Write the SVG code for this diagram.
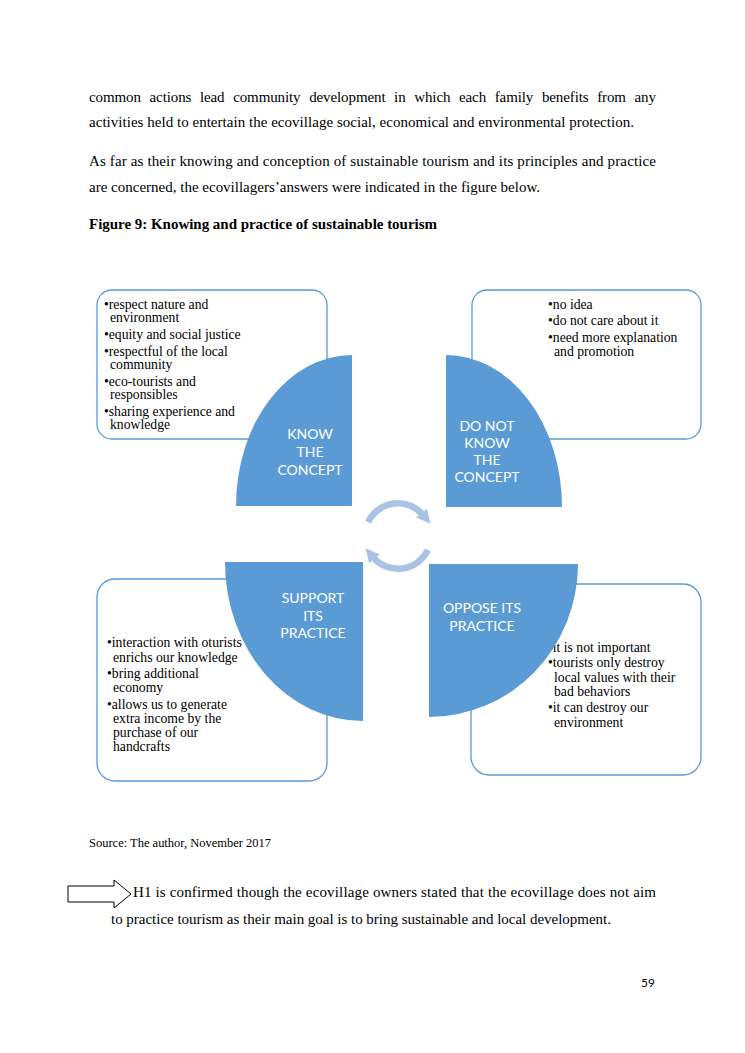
<svg xmlns="http://www.w3.org/2000/svg" width="745" height="1053" viewBox="0 0 745 1053">
<style>
.body{font-family:"Liberation Serif","Times New Roman",serif;font-size:15px;fill:#000}
.bold{font-weight:bold}
.src{font-family:"Liberation Serif","Times New Roman",serif;font-size:12.5px;fill:#000}
.item{font-family:"Liberation Serif","Times New Roman",serif;font-size:13.7px;fill:#000}
.box{fill:#fff;stroke:#5b9bd5;stroke-width:1.3}
.quarter{fill:#5b9bd5;stroke:none}
.lbl{font-family:Lato,"Open Sans","Liberation Sans",sans-serif;font-size:14px;fill:#fff;text-anchor:middle}
.cyc{fill:none;stroke:#a9c3e5;stroke-width:6.5}
.pg{font-family:Lato,"Open Sans","Liberation Sans",sans-serif;font-size:12px;fill:#000}
</style>
<defs>
<marker id="head" viewBox="0 0 10 10" refX="2" refY="5" markerWidth="14" markerHeight="14" markerUnits="userSpaceOnUse" orient="auto">
<path d="M0,0 L10,5 L0,10 Z" fill="#a9c3e5"/>
</marker>
</defs>
<rect width="745" height="1053" fill="#fff"/>

<g id="page-text">
<text class="body" x="89" y="102" word-spacing="5" textLength="567" lengthAdjust="spacing">common actions lead community development in which each family benefits from any</text>
<text class="body" x="89" y="127" textLength="545" lengthAdjust="spacing">activities held to entertain the ecovillage social, economical and environmental  protection.</text>
<text class="body" x="89" y="166" textLength="567" lengthAdjust="spacing">As far as their knowing and conception of sustainable tourism and its principles and practice</text>
<text class="body" x="89" y="192" textLength="451" lengthAdjust="spacing">are concerned, the ecovillagers’answers were indicated in the figure below.</text>
<text class="body bold" x="89" y="229" textLength="348" lengthAdjust="spacing">Figure 9: Knowing and practice of sustainable tourism</text>
<text class="src" x="89" y="847" textLength="182" lengthAdjust="spacing">Source: The author, November 2017</text>
<text class="body" x="133" y="897" textLength="523" lengthAdjust="spacing">H1 is confirmed though the ecovillage owners stated that the ecovillage does not aim</text>
<text class="body" x="111" y="924" textLength="500" lengthAdjust="spacing">to practice tourism as their main goal is to bring sustainable and local development.</text>
<text class="pg" x="648" y="987" text-anchor="middle">59</text>
</g>

<g id="h1-arrow">
<path d="M68,886 L114,886 L114,880 L131,894 L114,908 L114,902 L68,902 Z" fill="#fff" stroke="#000" stroke-width="1"/>
</g>

<g id="node-know">
<rect class="box" x="97" y="290" width="230" height="149" rx="15"/>
<text class="item">
<tspan x="104" y="309">•respect nature and</tspan>
<tspan x="110" y="322">environment</tspan>
<tspan x="104" y="339">•equity and social justice</tspan>
<tspan x="104" y="356">•respectful of the local</tspan>
<tspan x="110" y="369">community</tspan>
<tspan x="104" y="386">•eco-tourists and</tspan>
<tspan x="110" y="399">responsibles</tspan>
<tspan x="104" y="416">•sharing experience and</tspan>
<tspan x="110" y="429">knowledge</tspan>
</text>
<path class="quarter" d="M352,506 L236,506 A116,151 0 0 1 352,355 Z"/>
<text class="lbl"><tspan x="310" y="439">KNOW</tspan><tspan x="310" y="457">THE</tspan><tspan x="310" y="475">CONCEPT</tspan></text>
</g>

<g id="node-donotknow">
<rect class="box" x="472" y="290" width="229" height="149" rx="15"/>
<text class="item">
<tspan x="548" y="309">•no idea</tspan>
<tspan x="548" y="325">•do not care about it</tspan>
<tspan x="548" y="342">•need more explanation</tspan>
<tspan x="554" y="356">and promotion</tspan>
</text>
<path class="quarter" d="M446,507 L446,355 A116,152 0 0 1 562,507 Z"/>
<text class="lbl"><tspan x="487" y="431">DO NOT</tspan><tspan x="487" y="448">KNOW</tspan><tspan x="487" y="465">THE</tspan><tspan x="487" y="482">CONCEPT</tspan></text>
</g>

<g id="node-support">
<rect class="box" x="97" y="579" width="230" height="202" rx="18"/>
<text class="item">
<tspan x="107" y="647">•interaction with oturists</tspan>
<tspan x="113" y="662">enrichs our knowledge</tspan>
<tspan x="107" y="678">•bring additional</tspan>
<tspan x="113" y="692">economy</tspan>
<tspan x="107" y="709">•allows us to  generate</tspan>
<tspan x="113" y="723">extra income by the</tspan>
<tspan x="113" y="737">purchase of our</tspan>
<tspan x="113" y="751">handcrafts</tspan>
</text>
<path class="quarter" d="M363,562 L363,721 A138,159 0 0 1 225,562 Z"/>
<text class="lbl"><tspan x="313" y="603">SUPPORT</tspan><tspan x="313" y="621">ITS</tspan><tspan x="313" y="638">PRACTICE</tspan></text>
</g>

<g id="node-oppose">
<rect class="box" x="471" y="584" width="230" height="191" rx="18"/>
<text class="item">
<tspan x="548" y="652">•it is not important</tspan>
<tspan x="548" y="667">•tourists only destroy</tspan>
<tspan x="554" y="682">local values with their</tspan>
<tspan x="554" y="696">bad behaviors</tspan>
<tspan x="548" y="712">•it can destroy our</tspan>
<tspan x="554" y="727">environment</tspan>
</text>
<path class="quarter" d="M429,564 L578,564 A149,153 0 0 1 429,717 Z"/>
<text class="lbl"><tspan x="482" y="613">OPPOSE ITS</tspan><tspan x="482" y="631">PRACTICE</tspan></text>
</g>

<g id="connectors">
<path class="cyc" d="M368.1,522.1 A33,33 0 0 1 423.3,515.2" marker-end="url(#head)"/>
<path class="cyc" d="M427.9,549.9 A33,33 0 0 1 372.7,556.8" marker-end="url(#head)"/>
</g>
</svg>
